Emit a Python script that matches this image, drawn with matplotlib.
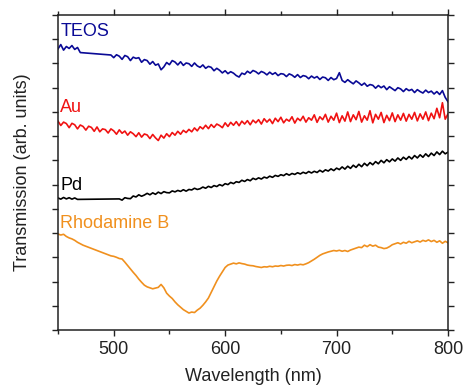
import numpy as np
import matplotlib
matplotlib.use("Agg")
import matplotlib.pyplot as plt
from matplotlib.ticker import MultipleLocator, NullFormatter

plt.rcParams["font.family"] = ["Liberation Sans", "DejaVu Sans"]

STEP = 2.5

# ---- TEOS (blue) ----
teos_a_start = 450.0
teos_a = [11.60, 11.78, 11.55, 11.70, 11.62, 11.74, 11.58, 11.66, 11.45]
teos_b_start = 497.5
teos_b = [11.35, 11.24, 11.36, 11.30, 11.17, 11.33, 11.28, 11.12, 11.26, 11.21,
          11.24, 11.05, 11.16, 11.12, 10.97, 11.08, 10.93, 10.98, 10.74, 10.86,
          11.04, 10.95, 11.12, 11.06, 10.94, 11.07, 10.92, 11.02, 10.99, 10.88,
          11.02, 10.90, 10.84, 10.94, 10.80, 10.88, 10.84, 10.70, 10.80, 10.72,
          10.61, 10.70, 10.58, 10.66, 10.60, 10.50, 10.44, 10.60, 10.55, 10.68,
          10.60, 10.71, 10.66, 10.57, 10.67, 10.62, 10.53, 10.64, 10.55, 10.62,
          10.50, 10.58, 10.56, 10.46, 10.57, 10.52, 10.43, 10.54, 10.42, 10.50,
          10.47, 10.37, 10.48, 10.40, 10.46, 10.34, 10.44, 10.41, 10.30, 10.42,
          10.33, 10.38, 10.62, 10.30, 10.22, 10.33, 10.24, 10.16, 10.28, 10.20,
          10.10, 10.19, 10.06, 10.13, 10.10, 9.98, 10.09, 10.00, 10.07, 9.92,
          10.04, 9.96, 9.88, 10.00, 9.95, 9.84, 9.96, 9.88, 9.93, 9.80,
          9.92, 9.84, 9.78, 9.90, 9.80, 9.86, 9.74, 9.84, 9.72, 9.88,
          9.60, 9.42]

# ---- Au (red) ----
au_start = 450.0
au = [8.62, 8.44, 8.58, 8.52, 8.35, 8.53, 8.47, 8.30, 8.46, 8.40,
      8.25, 8.41, 8.36, 8.20, 8.38, 8.18, 8.30, 8.27, 8.13, 8.30,
      8.22, 8.08, 8.26, 8.12, 8.21, 8.04, 8.18, 8.10, 7.98, 8.14,
      7.96, 8.09, 8.05, 7.90, 8.07, 7.93, 7.82, 8.04, 7.92, 8.10,
      7.98, 8.15, 8.04, 8.20, 8.08, 8.24, 8.15, 8.28, 8.18, 8.34,
      8.22, 8.39, 8.30, 8.45, 8.31, 8.48, 8.36, 8.50, 8.44, 8.35,
      8.55, 8.40, 8.57, 8.45, 8.60, 8.43, 8.62, 8.50, 8.64, 8.47,
      8.66, 8.55, 8.68, 8.50, 8.72, 8.58, 8.70, 8.52, 8.74, 8.60,
      8.78, 8.55, 8.70, 8.62, 8.80, 8.54, 8.74, 8.64, 8.82, 8.58,
      8.76, 8.66, 8.88, 8.57, 8.80, 8.68, 8.90, 8.58, 8.82, 8.66,
      8.95, 8.56, 8.84, 8.62, 9.00, 8.60, 8.88, 8.68, 9.02, 8.58,
      8.84, 8.66, 9.05, 8.55, 8.90, 8.70, 8.98, 8.56, 8.86, 8.64,
      8.96, 8.60, 8.88, 8.66, 8.94, 8.62, 8.90, 8.70, 8.98, 8.63,
      8.92, 8.70, 9.00, 8.64, 8.95, 8.72, 9.15, 8.76, 9.38, 8.70,
      8.92]

# ---- Pd (black) ----
pd_a_start = 450.0
pd_a = [5.45, 5.40, 5.47, 5.41, 5.46, 5.40, 5.45, 5.39]
pd_b_start = 505.0
pd_b = [5.41, 5.36, 5.46, 5.43, 5.42, 5.53, 5.49, 5.58, 5.52, 5.57,
        5.64, 5.58, 5.66, 5.60, 5.69, 5.63, 5.71, 5.67, 5.66, 5.74,
        5.70, 5.76, 5.72, 5.79, 5.73, 5.80, 5.78, 5.85, 5.80, 5.83,
        5.90, 5.85, 5.93, 5.88, 5.96, 5.92, 6.00, 5.95, 6.04, 6.00,
        6.09, 6.04, 6.12, 6.09, 6.18, 6.13, 6.21, 6.16, 6.26, 6.21,
        6.28, 6.23, 6.31, 6.27, 6.35, 6.30, 6.38, 6.34, 6.41, 6.37,
        6.45, 6.39, 6.46, 6.42, 6.49, 6.44, 6.51, 6.46, 6.54, 6.48,
        6.55, 6.50, 6.59, 6.52, 6.61, 6.56, 6.65, 6.58, 6.68, 6.62,
        6.73, 6.64, 6.76, 6.67, 6.80, 6.71, 6.84, 6.74, 6.88, 6.78,
        6.91, 6.82, 6.95, 6.86, 7.00, 6.90, 7.03, 6.94, 7.06, 6.97,
        7.10, 7.00, 7.13, 7.04, 7.16, 7.06, 7.20, 7.10, 7.23, 7.13,
        7.27, 7.16, 7.30, 7.20, 7.35, 7.24, 7.38, 7.27, 7.34]

# ---- Rhodamine B (orange) ----
rb_a_start = 450.0
rb_a = [3.96, 3.92, 3.95, 3.86, 3.80, 3.76, 3.70, 3.62, 3.56, 3.50]
rb_b_start = 497.5
rb_b = [3.06, 3.04, 3.00, 2.95, 2.93, 2.80, 2.66, 2.52, 2.38, 2.25,
        2.10, 1.97, 1.85, 1.78, 1.74, 1.70, 1.73, 1.76, 1.88, 1.74,
        1.52, 1.40, 1.30, 1.16, 1.04, 0.94, 0.84, 0.77, 0.70, 0.74,
        0.72, 0.82, 0.90, 1.02, 1.16, 1.32, 1.55, 1.78, 2.02, 2.22,
        2.40, 2.58, 2.68, 2.72, 2.76, 2.73, 2.77, 2.74, 2.72, 2.68,
        2.66, 2.65, 2.62, 2.60, 2.58, 2.61, 2.60, 2.63, 2.61, 2.64,
        2.63, 2.66, 2.64, 2.67, 2.68, 2.66, 2.70, 2.68, 2.71, 2.69,
        2.73, 2.78, 2.85, 2.92, 3.00, 3.08, 3.14, 3.18, 3.22, 3.25,
        3.28, 3.26, 3.29, 3.25, 3.28, 3.24, 3.30, 3.34, 3.38, 3.42,
        3.40, 3.50, 3.44, 3.52, 3.46, 3.50, 3.42, 3.40, 3.36, 3.38,
        3.44, 3.52, 3.56, 3.60, 3.55, 3.62, 3.58, 3.66, 3.60, 3.64,
        3.68, 3.63, 3.70, 3.66, 3.72, 3.65, 3.70, 3.62, 3.68, 3.58,
        3.66, 3.60]

labels = ["TEOS", "Au", "Pd", "Rhodamine B"]
label_y = [12.13, 9.0, 5.78, 4.21]
colors = ["#0a0a96", "#f01212", "#000000", "#f0901e"]

x_ticks = [500, 600, 700, 800]


def seg(start, vals):
    x = start + STEP * np.arange(len(vals))
    return x, np.asarray(vals)


def join(a, b):
    return np.concatenate([a[0], b[0]]), np.concatenate([a[1], b[1]])


series = [
    join(seg(teos_a_start, teos_a), seg(teos_b_start, teos_b)),
    seg(au_start, au),
    join(seg(pd_a_start, pd_a), seg(pd_b_start, pd_b)),
    join(seg(rb_a_start, rb_a), seg(rb_b_start, rb_b)),
]

axis_col = "#222222"

fig = plt.figure(figsize=(4.64, 3.89), dpi=100)
ax = fig.add_axes([0.125, 0.1517, 0.8405, 0.8097])

for (x, y), c in zip(series, colors):
    ax.plot(x, y, color=c, lw=1.2)

for lab, ly, c in zip(labels, label_y, colors):
    ax.text(452, ly, lab, color=c, fontsize=13, ha="left", va="baseline")

ax.set_xlim(450, 800)
ax.set_ylim(0, 13)
ax.set_xticks(x_ticks)
ax.xaxis.set_minor_locator(MultipleLocator(50))
ax.yaxis.set_major_locator(MultipleLocator(1))
ax.yaxis.set_major_formatter(NullFormatter())
ax.tick_params(axis="x", which="major", direction="out", length=4, width=1,
               top=True, labelsize=13, pad=4, color=axis_col, labelcolor=axis_col)
ax.tick_params(axis="x", which="minor", direction="out", length=3, width=1,
               top=True, color=axis_col)
ax.tick_params(axis="y", which="major", direction="out", length=4, width=1,
               right=True, color=axis_col)
for s in ax.spines.values():
    s.set_linewidth(1.1)
    s.set_color(axis_col)

ax.set_xlabel("Wavelength (nm)", fontsize=13, labelpad=7, color=axis_col)
ax.set_ylabel("Transmission (arb. units)", fontsize=13, labelpad=12, color=axis_col)

fig.savefig("out.png", dpi=100)
